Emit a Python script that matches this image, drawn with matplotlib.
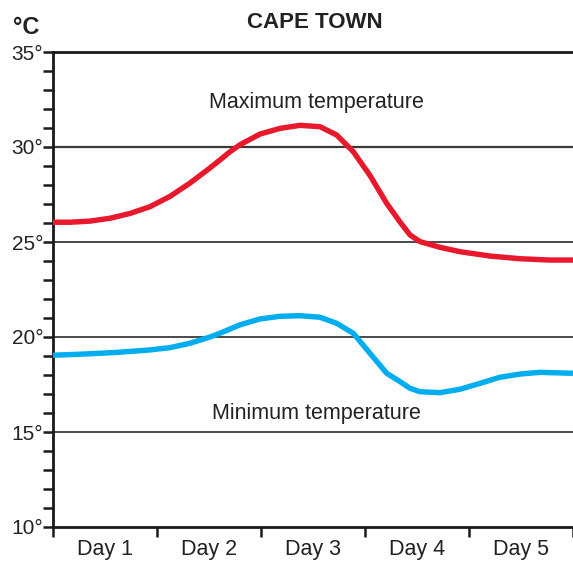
import numpy as np
import matplotlib
matplotlib.use("Agg")
import matplotlib.pyplot as plt
from matplotlib.ticker import MultipleLocator, FixedLocator, NullFormatter

plt.rcParams['font.family'] = ['Liberation Sans Narrow', 'Liberation Sans', 'DejaVu Sans']

# Werte (x = Tage seit Beginn, y = °C)
max_x = [0.0, 0.163, 0.356, 0.548, 0.740, 0.933, 1.125, 1.317, 1.510, 1.606, 1.702, 1.798, 1.990,
         2.183, 2.375, 2.567, 2.728, 2.888, 3.048, 3.209, 3.337, 3.433, 3.529, 3.721, 3.913, 4.202,
         4.490, 4.779, 5.0]
max_t = [26.04, 26.04, 26.1, 26.25, 26.5, 26.86, 27.4, 28.1, 28.9, 29.32, 29.75, 30.12, 30.68,
         30.98, 31.14, 31.07, 30.63, 29.75, 28.5, 27.03, 26.05, 25.37, 25.02, 24.72, 24.49, 24.26,
         24.12, 24.05, 24.05]

min_x = [0.0, 0.288, 0.615, 0.933, 1.125, 1.317, 1.510, 1.606, 1.702, 1.798, 1.990, 2.183, 2.375,
         2.567, 2.728, 2.888, 3.048, 3.209, 3.337, 3.433, 3.529, 3.721, 3.913, 4.106, 4.298, 4.490,
         4.683, 5.0]
min_t = [19.04, 19.1, 19.19, 19.32, 19.44, 19.67, 20.0, 20.2, 20.42, 20.64, 20.95, 21.09, 21.12,
         21.04, 20.72, 20.19, 19.14, 18.09, 17.65, 17.3, 17.12, 17.07, 17.25, 17.56, 17.88, 18.05,
         18.14, 18.09]

day_labels = ["Day 1", "Day 2", "Day 3", "Day 4", "Day 5"]
y_major = [10, 15, 20, 25, 30, 35]

fig = plt.figure(figsize=(5.73, 5.62), dpi=100)
ax = fig.add_axes([53 / 573, 1 - 527 / 562, 1 - 53 / 573, (527 - 52) / 562])

ax.set_xlim(0, 5)
ax.set_ylim(10, 35)

# Gitterlinien
for v in [15, 20, 25, 30]:
    ax.axhline(v, color='#3a3a3a', lw=1.3 if v != 30 else 1.6, zorder=1)

ax.plot(max_x, max_t, color='#E8192C', lw=3.9, solid_capstyle='butt', solid_joinstyle='round', zorder=3)
ax.plot(min_x, min_t, color='#00AEEF', lw=3.9, solid_capstyle='butt', solid_joinstyle='round', zorder=3)

# Achsen
for s in ['left', 'bottom', 'top']:
    ax.spines[s].set_color('#1a1a1a')
    ax.spines[s].set_linewidth(2.0)
ax.spines['right'].set_visible(False)

ax.yaxis.set_major_locator(FixedLocator(y_major))
ax.set_yticklabels([f"{v}°" for v in y_major])
ax.yaxis.set_minor_locator(MultipleLocator(1))
ax.tick_params(axis='y', which='both', direction='out', length=7, width=1.8,
               color='#1a1a1a', labelsize=15, pad=0, labelcolor='#222222')

ax.xaxis.set_major_locator(FixedLocator([0, 1, 2, 3, 4, 5]))
ax.xaxis.set_major_formatter(NullFormatter())
ax.xaxis.set_minor_locator(FixedLocator([0.5, 1.5, 2.5, 3.5, 4.5]))
ax.set_xticklabels(day_labels, minor=True)
ax.tick_params(axis='x', which='major', direction='out', length=7, width=1.8, color='#1a1a1a')
ax.tick_params(axis='x', which='minor', length=0, labelsize=15.5, pad=9, labelcolor='#222222')

ax.text(2.53, 32.35, "Maximum temperature", ha='center', va='center', fontsize=15.5, color='#222222')
ax.text(2.53, 15.95, "Minimum temperature", ha='center', va='center', fontsize=15.5, color='#222222')

fig.text(315 / 573, 1 - 23 / 562, "CAPE TOWN", ha='center', va='center', fontsize=16,
         fontweight='bold', color='#222222')
fig.text(13 / 573, 1 - 27 / 562, "°C", ha='left', va='center', fontsize=17,
         fontweight='bold', color='#222222')

fig.savefig("out.png", dpi=100)
